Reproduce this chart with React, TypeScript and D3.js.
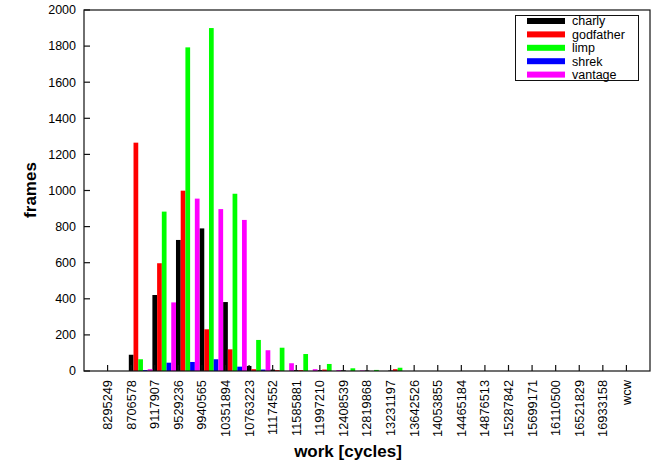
import React from "react";
import * as d3 from "d3";

const categories = ["8295249","8706578","9117907","9529236","9940565","10351894","10763223","11174552","11585881","11997210","12408539","12819868","13231197","13642526","14053855","14465184","14876513","15287842","15699171","16110500","16521829","16933158","wcw"];
const seriesNames = ["charly","godfather","limp","shrek","vantage"];
const seriesColors = ["#000000","#ff0000","#00ff00","#0000ff","#ff00ff"];
const charly = [0,90,421,726,790,382,28,8,5,5,4,3,3,0,0,0,0,0,0,0,0,0,0];
const godfather = [0,1265,597,999,231,120,10,5,5,8,0,0,10,0,0,0,0,0,0,0,0,0,0];
const limp = [0,65,883,1793,1900,982,172,129,94,39,15,6,18,0,0,0,0,0,0,0,0,0,0];
const shrek = [0,5,46,50,65,24,8,0,0,0,0,0,0,0,0,0,0,0,0,0,0,0,0];
const vantage = [0,10,380,955,897,837,115,43,10,5,3,0,0,0,0,0,0,0,0,0,0,0,0];
const yTicks = [0,200,400,600,800,1000,1200,1400,1600,1800,2000];

const W = 663, H = 468;
const L = 84, R = 650, T = 10, B = 371;
const FONT = "'Liberation Sans', Arial, Helvetica, sans-serif";

export default function App() {
  const series = [charly, godfather, limp, shrek, vantage];
  const x = d3.scaleLinear().domain([-1, categories.length]).range([L, R]);
  const y = d3.scaleLinear().domain([0, 2000]).range([B, T]);
  const unit = x(1) - x(0);
  const bw = unit / series.length;

  return (
    <div style={{ position: "fixed", left: 0, top: 0 }}>
      <svg width={W} height={H} style={{ display: "block", background: "#fff" }} fontFamily={FONT}>
        {series.map((vals, j) => (
          <g key={j} fill={seriesColors[j]}>
            {vals.map((v, i) => {
              if (v <= 0) return null;
              const x0 = x(i) + (j - 0.5) * bw;
              return <rect key={i} x={x0} y={y(v)} width={bw} height={y(0) - y(v)} />;
            })}
          </g>
        ))}
        {/* frame */}
        <rect x={L} y={T} width={R - L} height={B - T} fill="none" stroke="#111" strokeWidth={1.2} />
        {/* y ticks */}
        {yTicks.map((t) => (
          <g key={t}>
            <line x1={L} x2={L + 6} y1={y(t)} y2={y(t)} stroke="#111" strokeWidth={1.2} />
            <text x={L - 8} y={y(t)} dy="0.35em" textAnchor="end" fontSize={12.5} fill="#000">{t}</text>
          </g>
        ))}
        {/* x ticks */}
        {categories.map((c, i) => (
          <g key={c}>
            <line x1={x(i)} x2={x(i)} y1={B} y2={B - 6} stroke="#111" strokeWidth={1.2} />
            <text
              transform={`translate(${x(i)},${B + 9}) rotate(-90)`}
              dy="0.35em"
              textAnchor="end"
              fontSize={12.8}
              fill="#000"
            >{c}</text>
          </g>
        ))}
        {/* axis labels */}
        <text x={348} y={457} textAnchor="middle" fontSize={17} fontWeight="bold">work [cycles]</text>
        <text transform={`translate(36,190) rotate(-90)`} textAnchor="middle" fontSize={17} fontWeight="bold">frames</text>
        {/* legend */}
        <rect x={515.5} y={15.5} width={123} height={65} fill="#fff" stroke="#111" strokeWidth={1} />
        {seriesNames.map((n, j) => {
          const cy = 21 + j * 13.4;
          return (
            <g key={n}>
              <rect x={527} y={cy - 3} width={38} height={6} fill={seriesColors[j]} />
              <text x={572} y={cy} dy="0.35em" fontSize={12.5} fill="#000">{n}</text>
            </g>
          );
        })}
      </svg>
    </div>
  );
}
